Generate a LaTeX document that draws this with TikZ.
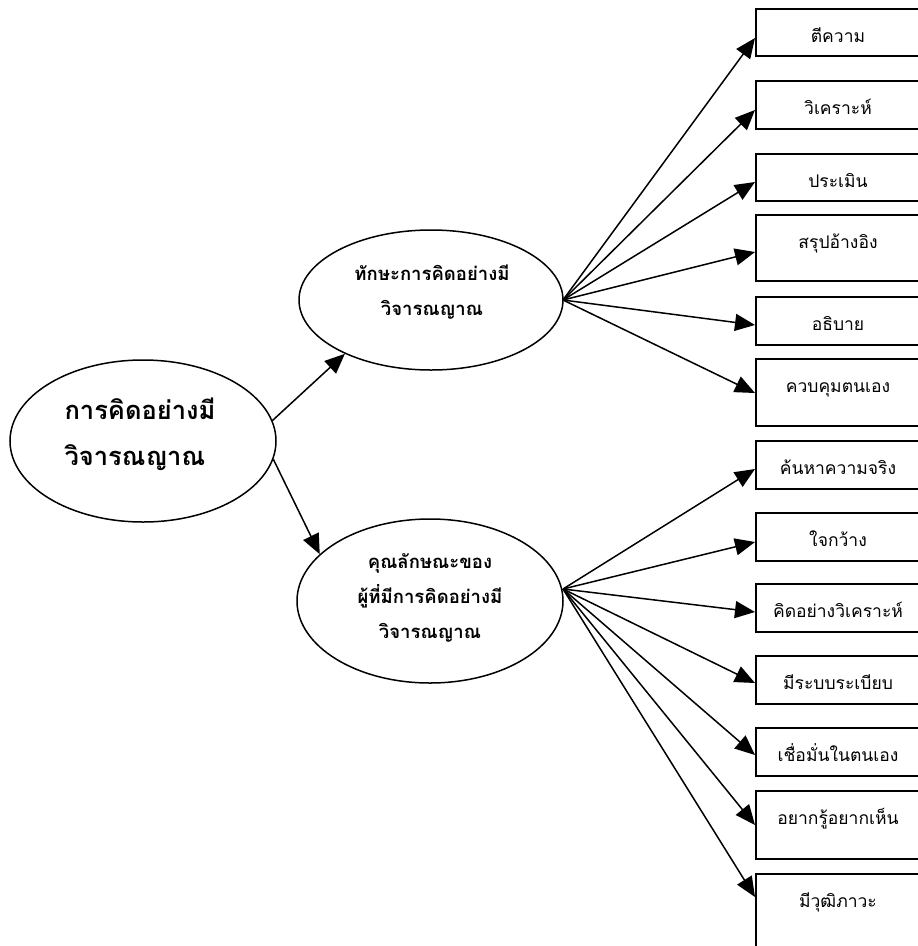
\documentclass[tikz,border=0pt]{standalone}
\usepackage{fontspec}
\newfontfamily\thai[Script=Thai]{Loma}
\usetikzlibrary{arrows.meta,shapes.geometric}

\begin{document}
\begin{tikzpicture}[x=1pt,y=-1pt,
  oval/.style={draw, ellipse, line width=1.5pt, inner sep=0pt},
  leaf/.style={draw, rectangle, line width=1.5pt, anchor=north west,
    minimum width=180pt, inner sep=0pt},
  leaftext/.style={font=\thai\fontsize{17.5}{20}\selectfont, anchor=base},
  subtext/.style={font=\thai\bfseries\fontsize{18.5}{35}\selectfont, align=center},
  roottext/.style={font=\thai\bfseries\fontsize{25.5}{46}\selectfont, align=left},
  arr/.style={line width=1.5pt, -{Triangle[length=20pt,width=17pt]}}]
\useasboundingbox (0,0) rectangle (918,946);

% root concept
\node[oval, minimum width=266pt, minimum height=162pt] (root) at (143,441) {};
\node[roottext] (roottxt) at (140,434) {การคิดอย่างมี\\วิจารณญาณ};

% the two branches
\node[oval, minimum width=264pt, minimum height=140pt] (skill) at (431,300) {};
\node[subtext] (skilltxt) at (432,292) {ทักษะการคิดอย่างมี\\วิจารณญาณ};

\node[oval, minimum width=266pt, minimum height=164pt] (trait) at (430,601) {};
\node[subtext] (traittxt) at (430,598) {คุณลักษณะของ\\ผู้ที่มีการคิดอย่างมี\\วิจารณญาณ};

\coordinate (hubA) at (563,300);
\coordinate (hubB) at (563,589);

\draw[arr] (root.9) -- (skill.212);
\draw[arr] (root.-8) -- (trait.157);

% skills
\foreach \n/\top/\h/\tip/\t in {
  1/8/47/30/ตีความ,
  2/80/48/30/วิเคราะห์,
  3/153/47/29/ประเมิน,
  4/214/66/38/สรุปอ้างอิง,
  5/296/48/29/อธิบาย,
  6/358/67/35/ควบคุมตนเอง}{
  \node[leaf, minimum height=\h pt] (b\n) at (755,\top) {};
  \node[leaftext] (t\n) at ([xshift=83pt,yshift=-34pt]b\n.north west) {\t};
  \draw[arr] (hubA) -- ([yshift=-\tip pt]b\n.north west);
}

% characteristics
\foreach \n/\top/\h/\tip/\t in {
  7/440/48/29/ค้นหาความจริง,
  8/512/48/30/ใจกว้าง,
  9/583/48/29/คิดอย่างวิเคราะห์,
  10/655/48/28/มีระบบระเบียบ,
  11/727/48/28/เชื่อมั่นในตนเอง,
  12/790/68/35/อยากรู้อยากเห็น,
  13/873/100/24/มีวุฒิภาวะ}{
  \node[leaf, minimum height=\h pt] (b\n) at (755,\top) {};
  \node[leaftext] (t\n) at ([xshift=83pt,yshift=-34pt]b\n.north west) {\t};
  \draw[arr] (hubB) -- ([yshift=-\tip pt]b\n.north west);
}
\end{tikzpicture}
\end{document}
